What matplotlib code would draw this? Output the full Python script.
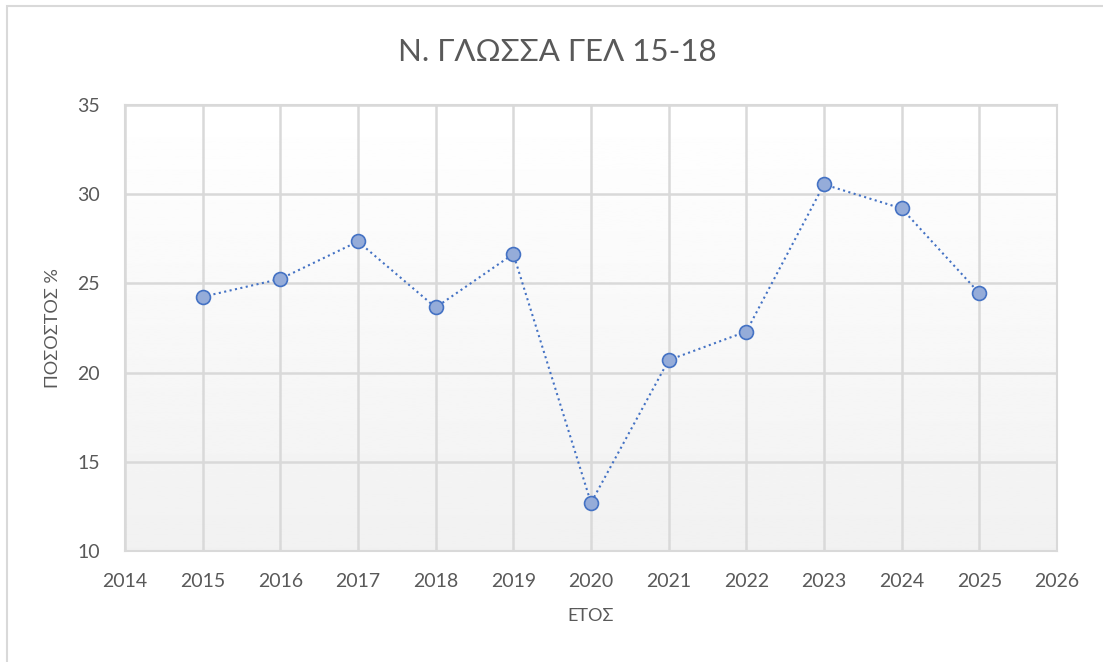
import matplotlib
matplotlib.use('Agg')
import matplotlib.pyplot as plt
import numpy as np
from matplotlib.patches import Rectangle

plt.rcParams['font.family'] = ['Lato', 'DejaVu Sans']

# Данные графика
years = [2015, 2016, 2017, 2018, 2019, 2020, 2021, 2022, 2023, 2024, 2025]
percent = [24.25, 25.25, 27.35, 23.65, 26.65, 12.7, 20.7, 22.3, 30.55, 29.2, 24.45]
x_ticks = list(range(2014, 2027))
y_ticks = [10, 15, 20, 25, 30, 35]

title = 'Ν. ΓΛΩΣΣΑ ΓΕΛ 15-18'
x_label = 'ΕΤΟΣ'
y_label = 'ΠΟΣΟΣΤΟΣ %'

fig = plt.figure(figsize=(11.03, 6.62), dpi=100)
W, H = 1103, 662
ax = fig.add_axes([125 / W, 1 - 551 / H, (1057 - 125) / W, (551 - 105) / H])

# Рамка всего графика
fig.patches.append(Rectangle((7 / W, -0.01), 1.02 - 7 / W, 1 - 6 / H + 0.01,
                             transform=fig.transFigure, fill=False,
                             edgecolor='#d9d9d9', linewidth=1.5))

# Градиентный фон области построения (сверху белый, снизу серый)
grad = np.linspace(1.0, 0.945, 256).reshape(-1, 1)
ax.imshow(grad, extent=[2014, 2026, 10, 35], aspect='auto', cmap='gray',
          vmin=0, vmax=1, zorder=0, origin='upper')

ax.plot(years, percent, linestyle=':', color='#4472c4', linewidth=1.5,
        marker='o', markersize=10, markerfacecolor='#95acd9',
        markeredgecolor='#4472c4', markeredgewidth=1.2, zorder=3)

ax.set_xlim(2014, 2026)
ax.set_ylim(10, 35)
ax.set_xticks(x_ticks)
ax.set_yticks(y_ticks)
ax.grid(True, color='#d9d9d9', linewidth=1.8, zorder=1)
ax.set_axisbelow(True)
for s in ax.spines.values():
    s.set_color('#d9d9d9')
    s.set_linewidth(1.5)
ax.tick_params(length=0, labelsize=14, colors='#595959')
ax.tick_params(axis='x', pad=16)
ax.tick_params(axis='y', pad=18)

fig.text(557 / W, 1 - 52 / H, title, fontsize=22.5, color='#595959',
         ha='center', va='center')
ax.set_xlabel(x_label, fontsize=13, color='#595959', labelpad=13)
ax.set_ylabel(y_label, fontsize=13, color='#595959', labelpad=12)

fig.savefig('out.png', dpi=100)
